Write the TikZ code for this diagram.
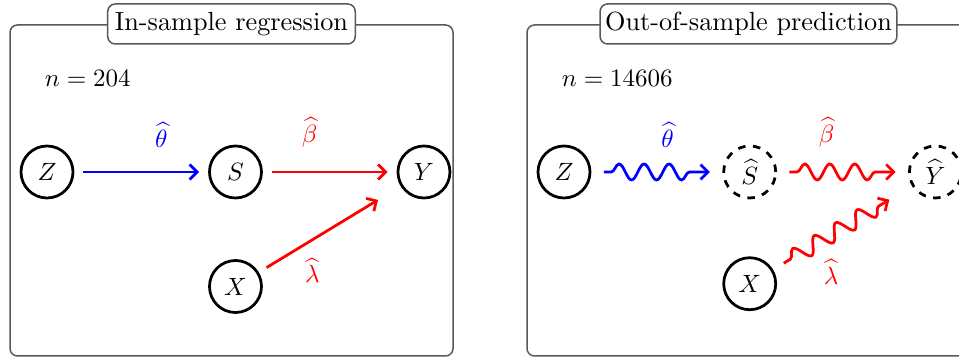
\documentclass[tikz,border=0pt]{standalone}
\usepackage{amsmath,amssymb}
\usetikzlibrary{arrows.meta,positioning,calc,decorations.pathmorphing}

\begin{document}
\begin{tikzpicture}[
  x=0.4pt,y=0.4pt,
  node distance=8.4mm and 18.8mm,
  var/.style={draw,circle,line width=1.1pt,minimum size=20.8pt,inner sep=0pt},
  latent/.style={var,dashed},
  panel/.style={draw=black!65,line width=0.6pt,rounded corners=3pt},
  title/.style={draw=black!65,fill=white,line width=0.6pt,rounded corners=3pt,minimum width=99pt,minimum height=16pt,inner sep=2pt,font=\fontsize{10.5}{12}\selectfont},
  arr/.style={-{Straight Barb[length=3pt,width=6pt]},line width=1.1pt,shorten <=3.6pt,shorten >=3.6pt},
  wavy/.style={-{Straight Barb[length=3pt,width=6pt]},line width=1.1pt,decorate,
    decoration={snake,amplitude=3.2pt,segment length=10pt,pre length=3pt,post length=4pt}}
]
\path[use as bounding box] (0,0) rectangle (959,358);
\clip (0,0) rectangle (959,358);

% in-sample panel
\begin{scope}
\draw[panel] (10,2) rectangle (453,333);
\node[title] (tin) at (231.5,334) {In-sample regression};
\node[anchor=west] (nin) at (36,280) {$n=204$};
\node[var] (z) at (47,186) {$Z$};
\node[var,right=of z] (s) {$S$};
\node[var,right=of s] (y) {$Y$};
\node[var,below=of s] (x) {$X$};
\coordinate (yend) at ($(y)!21.5pt!(x)$);
\draw[arr,blue] (z) -- node[above=6pt,pos=0.65]{$\widehat{\theta}$} (s);
\draw[arr,red] (s) -- node[above=6pt,pos=0.35]{$\widehat{\beta}$} (y);
\draw[arr,red,shorten >=0pt] (x) -- node[below=3.5pt,pos=0.45]{$\widehat{\lambda}$} (yend);
\end{scope}

% out-of-sample panel (outer sep keeps the waves off the circles)
\begin{scope}[shift={(517,0)},node distance=4.53mm and 14.93mm,var/.append style={outer sep=5.5pt}]
\draw[panel] (10,2) rectangle (453,333);
\node[title] (tout) at (231.5,334) {Out-of-sample prediction};
\node[anchor=west] (nout) at (36,280) {$n=14606$};
\node[var] (z2) at (47,186) {$Z$};
\node[latent,right=of z2] (s2) {$\widehat{S}$};
\node[latent,right=of s2] (y2) {$\widehat{Y}$};
\node[var,below=of s2] (x2) {$X$};
\coordinate (yend2) at ($(y2)!21.5pt!(x2)$);
\draw[wavy,blue] (z2) -- node[above=6pt,pos=0.6]{$\widehat{\theta}$} (s2);
\draw[wavy,red] (s2) -- node[above=6pt,pos=0.35]{$\widehat{\beta}$} (y2);
\draw[wavy,red] (x2) -- node[below=6pt,pos=0.45]{$\widehat{\lambda}$} (yend2);
\end{scope}
\end{tikzpicture}
\end{document}
